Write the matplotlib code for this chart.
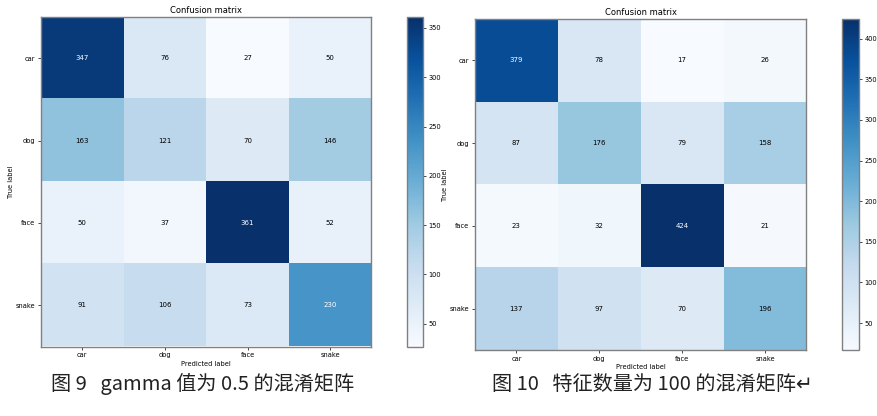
import matplotlib.pyplot as plt
import numpy as np

plt.rcParams['font.family'] = ['DejaVu Sans', 'Noto Sans CJK SC']

classes = ["car", "dog", "face", "snake"]

# gamma = 0.5
cm_gamma = [[347, 76, 27, 50],
            [163, 121, 70, 146],
            [50, 37, 361, 52],
            [91, 106, 73, 230]]

# 100 features
cm_feat = [[379, 78, 17, 26],
           [87, 176, 79, 158],
           [23, 32, 424, 21],
           [137, 97, 70, 196]]

caption_left = "图 9   gamma 值为 0.5 的混淆矩阵"
caption_right = "图 10   特征数量为 100 的混淆矩阵\u21b5"


def plot_confusion_matrix(fig, cm, ax_rect, cb_rect, cb_ticks):
    cm = np.array(cm)
    ax = fig.add_axes(ax_rect)
    im = ax.imshow(cm, interpolation='nearest', cmap=plt.cm.Blues, aspect='auto')
    ax.set_title('Confusion matrix', fontsize=6, pad=3)
    tick_marks = np.arange(len(classes))
    ax.set_xticks(tick_marks)
    ax.set_xticklabels(classes)
    ax.set_yticks(tick_marks)
    ax.set_yticklabels(classes)
    ax.tick_params(labelsize=4.8, length=2, width=0.5, pad=2)
    for s in ax.spines.values():
        s.set_color('#808080')
        s.set_linewidth(1.0)

    thresh = cm.max() / 2.
    for i in range(cm.shape[0]):
        for j in range(cm.shape[1]):
            ax.text(j, i, format(cm[i, j], 'd'), ha="center", va="center", fontsize=5,
                    color="white" if cm[i, j] > thresh else "black")

    ax.set_ylabel('True label', fontsize=4.8, labelpad=1)
    ax.set_xlabel('Predicted label', fontsize=4.8, labelpad=2)

    cax = fig.add_axes(cb_rect)
    cb = fig.colorbar(im, cax=cax, ticks=cb_ticks)
    cb.ax.tick_params(labelsize=4.8, length=2, width=0.5, pad=2)
    cb.outline.set_edgecolor('#808080')
    cb.outline.set_linewidth(1.0)
    return ax


W, H = 878.0, 416.0


def rect(x0, y0, x1, y1):
    return [x0 / W, 1 - y1 / H, (x1 - x0) / W, (y1 - y0) / H]


fig = plt.figure(figsize=(8.78, 4.16), dpi=100)

plot_confusion_matrix(fig, cm_gamma, rect(41, 17, 371.5, 346.5), rect(407, 17, 423, 346.5),
                      [50, 100, 150, 200, 250, 300, 350])
plot_confusion_matrix(fig, cm_feat, rect(475, 19, 806.5, 350), rect(842.5, 19, 859, 350),
                      [50, 100, 150, 200, 250, 300, 350, 400])

fig.text(203 / W, 1 - 384 / H, caption_left, ha='center', va='center', fontsize=14.5,
         family=['Noto Sans CJK SC', 'DejaVu Sans'], color='#222222')
fig.text(652 / W, 1 - 384 / H, caption_right, ha='center', va='center', fontsize=14.5,
         family=['Noto Sans CJK SC', 'DejaVu Sans'], color='#222222')

fig.savefig('out.png', dpi=100)
